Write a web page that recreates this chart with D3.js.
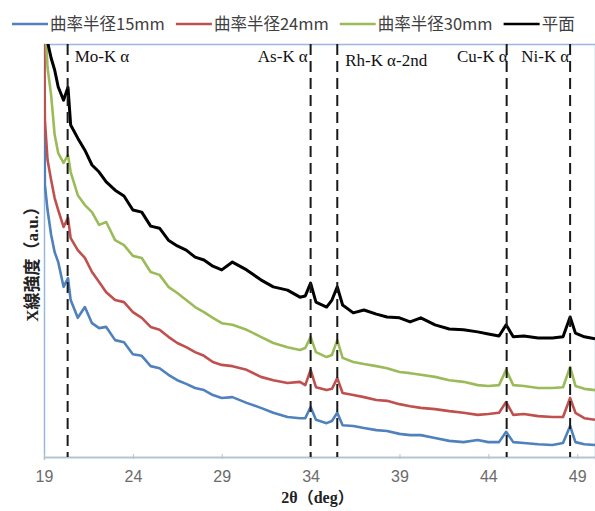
<!DOCTYPE html>
<html>
<head>
<meta charset="utf-8">
<script src="https://cdn.jsdelivr.net/npm/d3@7"></script>
<style>
  body { margin: 0; background: #fff; }
  svg { display: block; }
</style>
</head>
<body>
<div id="chart"></div>
<script>
// Data (intensity in arbitrary units 0-100)
var angles = [19.0, 19.05, 19.2, 19.4, 19.6, 19.8, 20.1, 20.35, 20.5, 20.9, 21.3, 21.7, 22.1, 22.5,
    23.0, 23.5, 24.0, 24.5, 25.0, 25.5, 26.0, 26.5, 27.0, 27.5, 28.0, 28.5, 29.0, 29.6, 30.4, 31.2,
    31.9, 32.7, 33.4, 33.7, 34.0, 34.3, 34.9, 35.2, 35.5, 35.8, 36.4, 37.0, 37.7, 38.3, 39.0, 39.6,
    40.2, 41.0, 41.8, 42.6, 43.4, 44.0, 44.6, 45.0, 45.4, 46.0, 46.8, 47.6, 48.2, 48.6, 48.9, 49.4, 50.0];

var radius15 = [105, 65.9, 59.8, 53.8, 49.6, 47.2, 41.2, 43.3, 38.0, 33.7, 36.3, 32.4, 31.2, 31.5,
    28.3, 27.8, 24.9, 24.5, 22.0, 21.5, 19.9, 18.6, 17.7, 16.7, 16.2, 15.0, 14.3, 14.5, 13.1, 11.9,
    10.7, 9.7, 9.4, 9.4, 12.1, 9.0, 8.2, 8.7, 10.7, 7.7, 7.5, 7.0, 6.5, 6.3, 5.6, 5.3,
    5.3, 4.6, 3.9, 3.6, 4.1, 3.6, 3.6, 6.1, 3.6, 3.4, 3.1, 2.9, 3.4, 7.5, 3.6, 3.1, 2.9];

var radius24 = [110, 81.6, 71.9, 67.1, 62.7, 59.8, 55.7, 57.9, 53.0, 50.1, 48.2, 44.8, 42.4, 39.9,
    38.0, 37.5, 35.1, 33.7, 31.5, 30.8, 29.1, 27.6, 26.6, 25.4, 24.5, 23.0, 22.3, 22.0, 21.1, 19.4,
    18.6, 17.9, 18.2, 17.4, 21.1, 16.9, 16.2, 16.5, 19.1, 15.5, 15.0, 14.5, 13.8, 13.6, 12.8, 12.3,
    11.9, 11.6, 11.1, 10.7, 10.2, 10.4, 10.7, 13.3, 10.2, 10.4, 9.9, 9.7, 9.7, 14.3, 10.7, 9.4, 9.0];

var radius30 = [125, 108, 94.2, 87.7, 78.0, 73.6, 71.2, 73.1, 69.0, 63.4, 61.0, 59.3, 56.2, 56.9,
    52.5, 51.3, 48.7, 48.2, 44.8, 44.1, 41.2, 39.7, 38.0, 36.3, 35.1, 33.7, 32.4, 32.0, 30.8, 29.1,
    27.6, 26.6, 25.9, 26.4, 29.1, 25.4, 24.2, 24.7, 28.3, 24.0, 23.0, 22.5, 22.0, 21.5, 20.6, 20.3,
    19.9, 19.4, 18.6, 18.2, 17.4, 17.2, 17.4, 21.1, 17.4, 17.2, 16.7, 16.7, 16.9, 21.8, 17.2, 16.5, 16.2];

var flat = [130, 120, 100.5, 96.6, 93.7, 89.6, 86.4, 89.5, 80.4, 77.2, 74.3, 70.7, 69.0, 66.6,
    64.6, 63.2, 59.8, 59.3, 55.9, 55.4, 52.5, 51.1, 50.1, 48.4, 47.7, 46.2, 45.3, 47.2, 45.3, 42.9,
    41.2, 40.4, 38.7, 39.0, 42.1, 37.5, 36.3, 38.0, 41.2, 36.8, 34.9, 35.6, 34.6, 33.9, 33.7, 32.7,
    33.7, 32.0, 31.0, 30.8, 30.3, 29.8, 29.3, 32.0, 29.1, 29.3, 28.8, 28.8, 29.1, 33.9, 30.0, 29.1, 28.6];

var seriesNames = ["曲率半径15mm", "曲率半径24mm", "曲率半径30mm", "平面"];
var seriesValues = [radius15, radius24, radius30, flat];
var seriesColors = ["#4f81bd", "#c0504d", "#9bbb59", "#000000"];

var peakNames = ["Mo-K", "As-K", "Rh-K", "Cu-K", "Ni-K"];
var peakSuffix = ["", "", "-2nd", "", ""];
var peakAngles = [20.33, 34.0, 35.5, 45.03, 48.6];

var xTicks = [19, 24, 29, 34, 39, 44, 49];

// Layout
var width = 595, height = 511;
var margin = {top: 44, left: 44, right: 0, bottom: 54};
var plotW = width - margin.left - margin.right;
var plotH = height - margin.top - margin.bottom;

var svg = d3.select("#chart").append("svg")
    .attr("width", width)
    .attr("height", height);

var x = d3.scaleLinear().domain([19, 50]).range([margin.left, margin.left + plotW]);
var y = d3.scaleLinear().domain([0, 100]).range([margin.top + plotH, margin.top]);

svg.append("clipPath").attr("id", "plotclip")
    .append("rect")
    .attr("x", margin.left).attr("y", margin.top)
    .attr("width", plotW).attr("height", plotH);

// plot area border (light blue)
svg.append("rect")
    .attr("x", margin.left + 0.5).attr("y", margin.top + 0.5)
    .attr("width", plotW).attr("height", plotH)
    .attr("fill", "none")
    .attr("stroke", "#9ab8dc")
    .attr("stroke-width", 1.5);

// curves
var line = d3.line()
    .x(function (d) { return x(d[0]); })
    .y(function (d) { return y(d[1]); });

var curves = svg.append("g").attr("clip-path", "url(#plotclip)");
seriesValues.forEach(function (vals, i) {
    curves.append("path")
        .datum(angles.map(function (a, j) { return [a, vals[j]]; }))
        .attr("d", line)
        .attr("fill", "none")
        .attr("stroke", seriesColors[i])
        .attr("stroke-width", i === 3 ? 3 : 2.6)
        .attr("stroke-linejoin", "round");
});

// x axis
var xAxis = svg.append("g")
    .attr("transform", "translate(0," + (margin.top + plotH) + ")")
    .call(d3.axisBottom(x).tickValues(xTicks).tickSize(3).tickPadding(11));
xAxis.select(".domain").attr("stroke", "#b8c2cc").attr("stroke-width", 1.5);
xAxis.selectAll(".tick line").attr("stroke", "#b8c2cc").attr("y1", -3).attr("y2", 2);
xAxis.selectAll(".tick text")
    .attr("fill", "#6b6b6b")
    .style("font-family", "'Liberation Sans Narrow', 'Liberation Sans', Arial, sans-serif")
    .style("font-size", "16px");

// peak marker lines
var peakAnchor = ["start", "end", "start", "end", "end"];
var peakDx = [7, -3, 8, 1, -1];
var peakBaseline = [62, 62, 66, 62, 62];

svg.append("g").selectAll("line")
    .data(peakAngles)
    .join("line")
    .attr("x1", function (d) { return x(d); })
    .attr("x2", function (d) { return x(d); })
    .attr("y1", margin.top)
    .attr("y2", margin.top + plotH)
    .attr("stroke", "#1a1a1a")
    .attr("stroke-width", 2)
    .attr("stroke-dasharray", "11,6");

var peakLabels = svg.append("g").selectAll("text")
    .data(peakNames)
    .join("text")
    .attr("x", function (d, i) { return x(peakAngles[i]) + peakDx[i]; })
    .attr("y", function (d, i) { return peakBaseline[i]; })
    .attr("text-anchor", function (d, i) { return peakAnchor[i]; })
    .style("font-family", "'Liberation Serif', 'Times New Roman', serif")
    .style("font-size", "17px")
    .attr("fill", "#111")
    .text(function (d) { return d; });
peakLabels.append("tspan").attr("dx", 4).text("α");
peakLabels.append("tspan").text(function (d, i) { return peakSuffix[i]; });

// axis titles
svg.append("text")
    .attr("x", margin.left + plotW / 2 - 2)
    .attr("y", 503)
    .attr("text-anchor", "middle")
    .style("font-family", "'Liberation Serif', 'Noto Sans CJK JP', serif")
    .style("font-weight", "bold")
    .style("font-size", "16px")
    .attr("fill", "#222")
    .text("2θ（deg）");

svg.append("text")
    .attr("transform", "translate(38,260) rotate(-90)")
    .attr("text-anchor", "middle")
    .style("font-family", "'Liberation Serif', 'Noto Sans CJK JP', serif")
    .style("font-weight", "bold")
    .style("font-size", "17px")
    .attr("fill", "#222")
    .text("X線強度（a.u.）");

// legend
var legend = svg.append("g").attr("transform", "translate(12,24)");
var lx = 0;
seriesNames.forEach(function (name, i) {
    legend.append("line")
        .attr("x1", lx).attr("x2", lx + 36)
        .attr("y1", 0).attr("y2", 0)
        .attr("stroke", seriesColors[i])
        .attr("stroke-width", 2.5);
    var t = legend.append("text")
        .attr("x", lx + 38)
        .attr("y", 6)
        .style("font-family", "'Noto Sans CJK JP', 'Noto Sans', sans-serif")
        .style("font-size", "16.5px")
        .attr("fill", "#404040")
        .text(name);
    lx = lx + 38 + t.node().getComputedTextLength() + 11;
});
</script>
</body>
</html>
